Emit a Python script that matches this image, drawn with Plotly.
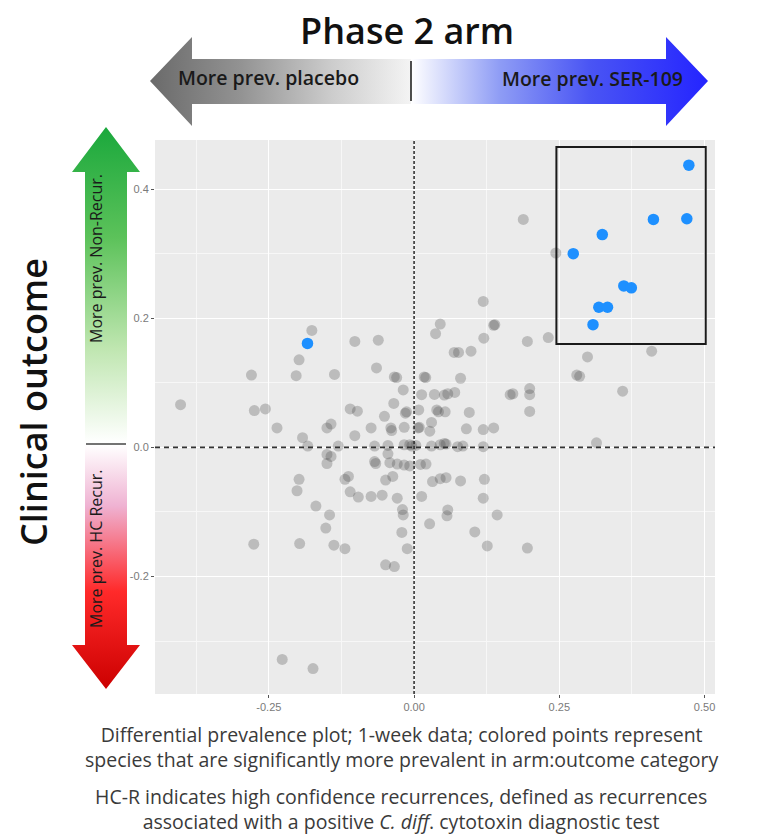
import plotly.graph_objects as go

W, H = 762, 837

# ---------------- data ----------------
grey_x = [0.188, 0.244, 0.119, 0.137, 0.139, 0.045, 0.037, 0.120, 0.195, 0.231,
          0.409, 0.2985, 0.280, 0.285, 0.359, 0.314, -0.176, -0.198, -0.280, -0.203,
          -0.137, -0.102, -0.0616, -0.0647, -0.402, -0.275, -0.256, -0.236, -0.192, -0.183,
          -0.150, -0.143, -0.110, -0.0976, -0.102, -0.074, -0.1306, -0.051, -0.040, -0.035,
          -0.0187, -0.034, -0.030, 0.0174, 0.020, 0.013, 0.035, 0.052, 0.058, 0.070,
          0.080, 0.069, 0.0765, 0.098, -0.015, -0.013, 0.008, 0.039, 0.042, 0.0535,
          0.030, 0.007, 0.009, 0.027, -0.017, -0.0386, 0.095, 0.090, 0.119, 0.137,
          0.1654, 0.170, 0.199, 0.199, 0.199, 0.119,
          -0.068, -0.045, -0.017, -0.0075, -0.004, 0.003, 0.030, 0.045, 0.052, 0.055, 0.075, 0.084,
          -0.150, -0.143, -0.150, -0.068, -0.066, -0.045, -0.0417, -0.029, -0.017, -0.0075,
          0.011, 0.0205, -0.198, -0.2015, -0.119, -0.113, -0.110, -0.096, -0.074, -0.055,
          -0.049, -0.0367, -0.029, 0.013, 0.0317, 0.045, 0.055, 0.080, 0.121, 0.119,
          -0.169, -0.1455, -0.152, -0.020, -0.0187, 0.058, 0.0566, 0.0267, 0.143, -0.0211,
          0.1045, -0.276, -0.197, -0.138, -0.119, -0.0118, 0.126, 0.195, -0.049, -0.034,
          -0.227, -0.174]
grey_y = [0.353, 0.301, 0.226, 0.189, 0.190, 0.191, 0.176, 0.169, 0.164, 0.170,
          0.149, 0.140, 0.112, 0.110, 0.087, 0.007, 0.181, 0.1355, 0.112, 0.111,
          0.113, 0.164, 0.166, 0.123, 0.066, 0.057, 0.0595, 0.030, 0.015, 0.002,
          0.030, 0.036, 0.0595, 0.056, 0.018, 0.030, 0.002, 0.048, 0.030, 0.068,
          0.089, 0.109, 0.108, 0.109, 0.108, 0.0815, 0.082, 0.081, 0.083, 0.085,
          0.107, 0.147, 0.147, 0.149, 0.053, 0.055, 0.058, 0.058, 0.055, 0.055,
          0.0386, 0.030, 0.031, 0.025, 0.031, 0.026, 0.054, 0.0287, 0.0275, 0.030,
          0.0815, 0.083, 0.091, 0.0815, 0.0556, 0.001,
          0.002, 0.003, 0.004, 0.004, 0.002, 0.003, 0.002, 0.004, 0.006, 0.005, 0.001, 0.002,
          -0.011, -0.014, -0.025, -0.022, -0.025, -0.010, -0.0237, -0.0259, -0.0275, -0.0287,
          -0.0264, -0.0259, -0.0496, -0.0672, -0.0496, -0.045, -0.0689, -0.077, -0.076, -0.074,
          -0.0507, -0.045, -0.0788, -0.076, -0.053, -0.0485, -0.047, -0.052, -0.0496, -0.0788,
          -0.091, -0.1047, -0.125, -0.0964, -0.1047, -0.097, -0.106, -0.1185, -0.1047, -0.1317,
          -0.131, -0.150, -0.149, -0.1515, -0.157, -0.157, -0.1526, -0.156, -0.182, -0.1846,
          -0.3284, -0.3427]

blue_x = [0.473, 0.412, 0.4695, 0.324, 0.274, 0.361, 0.374, 0.318, 0.333, 0.308, -0.1835]
blue_y = [0.437, 0.353, 0.354, 0.3295, 0.300, 0.250, 0.247, 0.217, 0.217, 0.190, 0.161]

x_tickvals = [-0.25, 0.0, 0.25, 0.5]
x_ticktext = ["-0.25", "0.00", "0.25", "0.50"]
y_tickvals = [-0.2, 0.0, 0.2, 0.4]
y_ticktext = ["-0.2", "0.0", "0.2", "0.4"]
x_minor = [-0.375, -0.125, 0.125, 0.375]
y_minor = [-0.3, -0.1, 0.1, 0.3]
x_range = [-0.446, 0.518]
y_range = [-0.382, 0.476]
box_x = [0.245, 0.502]
box_y = [0.160, 0.465]

title_text = "Phase 2 arm"
arm_left_text = "More prev. placebo"
arm_right_text = "More prev. SER-109"
outcome_text = "Clinical outcome"
outcome_up_text = "More prev. Non-Recur."
outcome_down_text = "More prev. HC Recur."
caption_1 = ("Differential prevalence plot; 1-week data; colored points represent<br>"
             "species that are significantly more prevalent in arm:outcome category")
caption_2 = ("HC-R indicates high confidence recurrences, defined as recurrences<br>"
             "associated with a positive <i>C. diff</i>. cytotoxin diagnostic test")

# ---------------- layout geometry (pixels) ----------------
PX0, PX1 = 155, 715   # panel left/right
PY0, PY1 = 140, 694   # panel top/bottom

fig = go.Figure()

fig.add_trace(go.Scatter(x=grey_x, y=grey_y, mode="markers",
                         marker=dict(size=11, color="rgba(70,70,70,0.28)", line=dict(width=0)),
                         hoverinfo="skip", showlegend=False, xaxis="x", yaxis="y"))
fig.add_trace(go.Scatter(x=blue_x, y=blue_y, mode="markers",
                         marker=dict(size=11.5, color="#1E90FF", line=dict(width=0)),
                         hoverinfo="skip", showlegend=False, xaxis="x", yaxis="y"))

# ---------------- decorative arrows (pixel overlay axes) ----------------
def poly(pts, grad_type, cscale, start, stop):
    xs = [p[0] for p in pts] + [pts[0][0]]
    ys = [p[1] for p in pts] + [pts[0][1]]
    fig.add_trace(go.Scatter(x=xs, y=ys, mode="lines", fill="toself",
                             line=dict(width=0, color="rgba(0,0,0,0)"),
                             fillgradient=dict(type=grad_type, colorscale=cscale,
                                               start=start, stop=stop),
                             hoverinfo="skip", showlegend=False,
                             xaxis="x2", yaxis="y2"))

cy = 81
poly([(150, cy), (192, 37), (192, 59), (411, 59), (411, 104), (192, 104), (192, 126)],
     "horizontal", [[0, "#6a6a6a"], [0.35, "#939393"], [0.7, "#cdcdcd"], [1, "#f4f4f4"]], 150, 411)
poly([(411, 59), (666, 59), (666, 37), (708, cy), (666, 126), (666, 104), (411, 104)],
     "horizontal", [[0, "#ffffff"], [0.3, "#8e9cf5"], [0.6, "#4a55f4"], [1, "#2424ff"]], 411, 708)

cx = 106
poly([(cx, 127), (140, 172), (127, 172), (127, 443), (85, 443), (85, 172), (72, 172)],
     "vertical", [[0, "#1aa83c"], [0.35, "#5cc25a"], [0.7, "#bfe6b0"], [1, "#ffffff"]], 127, 443)
poly([(85, 445), (127, 445), (127, 645), (140, 645), (cx, 689), (72, 645), (85, 645)],
     "vertical", [[0, "#ffffff"], [0.25, "#efb2d2"], [0.6, "#ff2a2a"], [1, "#cc0000"]], 445, 689)

shapes = []
shapes.append(dict(type="rect", xref="x domain", yref="y domain", x0=0, x1=1, y0=0, y1=1,
                   fillcolor="#EBEBEB", line=dict(width=0), layer="below"))
shapes.append(dict(type="line", xref="x", yref="y domain", x0=0, x1=0, y0=0, y1=1,
                   line=dict(color="#333333", width=1.6, dash="3px,2px")))
shapes.append(dict(type="line", xref="x domain", yref="y", x0=0, x1=1, y0=0, y1=0,
                   line=dict(color="#333333", width=1.6, dash="5px,4px")))
shapes.append(dict(type="rect", xref="x", yref="y", x0=box_x[0], x1=box_x[1],
                   y0=box_y[0], y1=box_y[1], line=dict(color="#1a1a1a", width=2),
                   fillcolor="rgba(0,0,0,0)"))
shapes.append(dict(type="line", xref="x2", yref="y2", x0=411, x1=411, y0=61, y1=101,
                   line=dict(color="#222222", width=1.6)))
shapes.append(dict(type="line", xref="x2", yref="y2", x0=86, x1=126, y0=444, y1=444,
                   line=dict(color="#444444", width=1.6)))

annotations = []
def txt(x, y, s, size, color="#111111", angle=0, weight="normal", family="Open Sans"):
    annotations.append(dict(xref="x2", yref="y2", x=x, y=y, text=s, showarrow=False,
                            textangle=angle, xanchor="center", yanchor="middle",
                            borderpad=0,
                            font=dict(family=family, size=size, color=color, weight=weight)))

txt(407, 30, title_text, 36, "#111111", weight=600)
txt(268, 77, arm_left_text, 19.5, "#1a1a1a", weight=600)
txt(592, 78, arm_right_text, 19.5, "#1a1a1a", weight=600)
txt(33, 402, outcome_text, 36, "#111111", angle=-90, weight=600)
txt(96, 259, outcome_up_text, 16, "#1a1a1a", angle=-90)
txt(96, 549, outcome_down_text, 16, "#1a1a1a", angle=-90)
txt(401, 747, caption_1, 19.5, "#3a3a3a")
txt(401, 809, caption_2, 19.5, "#3a3a3a")

fig.update_layout(
    width=W, height=H, autosize=False,
    margin=dict(l=0, r=0, t=0, b=0, pad=0),
    paper_bgcolor="white", plot_bgcolor="rgba(0,0,0,0)",
    showlegend=False,
    shapes=shapes, annotations=annotations,
    xaxis=dict(domain=[PX0 / W, PX1 / W], range=x_range, anchor="y",
               tickvals=x_tickvals, ticktext=x_ticktext,
               showgrid=True, gridcolor="white", gridwidth=1.2,
               minor=dict(tickvals=x_minor, showgrid=True, gridcolor="#f7f7f7", gridwidth=0.6, ticks=""),
               zeroline=False, showline=False, ticks="outside", ticklen=3, tickcolor="#555555",
               tickfont=dict(family="Liberation Sans", size=11, color="#7a7a7a"), fixedrange=True),
    yaxis=dict(domain=[1 - PY1 / H, 1 - PY0 / H], range=y_range, anchor="x",
               tickvals=y_tickvals, ticktext=y_ticktext,
               showgrid=True, gridcolor="white", gridwidth=1.2,
               minor=dict(tickvals=y_minor, showgrid=True, gridcolor="#f7f7f7", gridwidth=0.6, ticks=""),
               zeroline=False, showline=False, ticks="outside", ticklen=3, tickcolor="#555555",
               tickfont=dict(family="Liberation Sans", size=11, color="#7a7a7a"), fixedrange=True),
    xaxis2=dict(domain=[0, 1], range=[0, W], visible=False, anchor="y2", fixedrange=True),
    yaxis2=dict(domain=[0, 1], range=[H, 0], visible=False, anchor="x2", fixedrange=True),
)

fig.write_html("out.html")
